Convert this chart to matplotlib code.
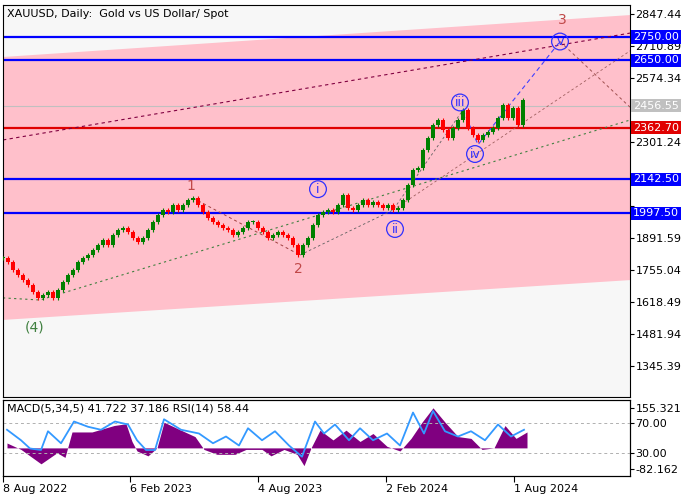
import numpy as np
import matplotlib.pyplot as plt
from matplotlib.patches import Polygon

plt.rcParams['font.family'] = ['DejaVu Sans']
plt.rcParams['font.size'] = 8

# weekly closes (x in pixels from left edge)
closes = [1806, 1789, 1755, 1734, 1712, 1691, 1661, 1636, 1648, 1661, 1636, 1670,
          1704, 1734, 1755, 1789, 1806, 1819, 1840, 1862, 1883, 1862, 1904, 1926,
          1934, 1917, 1892, 1874, 1892, 1926, 1960, 1990, 2011, 2003, 2032, 2011,
          2032, 2054, 2062, 2032, 2003, 1977, 1960, 1947, 1934, 1926, 1904, 1917,
          1934, 1960, 1960, 1934, 1917, 1892, 1904, 1917, 1904, 1892, 1862, 1819,
          1862, 1892, 1947, 1990, 2003, 2011, 2003, 2032, 2075, 2020, 2011, 2032,
          2054, 2032, 2045, 2032, 2020, 2032, 2011, 2020, 2054, 2118, 2182, 2190,
          2267, 2318, 2374, 2395, 2352, 2318, 2361, 2395, 2438, 2361, 2331, 2310,
          2331, 2344, 2361, 2404, 2459, 2404, 2446, 2374, 2480]

# indicator samples: x pixel, MACD histogram, RSI
hist_x = [4, 18, 38, 54, 62, 69, 89, 111, 123, 129, 134, 145, 154, 161, 178, 192,
          201, 214, 232, 243, 259, 268, 281, 294, 301, 308, 317, 330, 343, 357,
          370, 384, 397, 408, 419, 430, 442, 455, 468, 479, 491, 502, 513, 524]
hist = [19, -6, -62, -19, -37, 62, 62, 87, 94, 25, -12, -31, 0, 100, 69, 44,
        -6, -25, -25, -6, -6, -31, -6, -25, -69, 0, 69, 31, 69, 25,
        56, 6, -12, 37, 100, 156, 100, 44, 37, -6, 0, 87, 37, 62]
rsi_x = [4, 18, 27, 38, 45, 58, 71, 85, 98, 112, 125, 134, 143, 152, 161, 178,
         196, 210, 223, 236, 245, 259, 272, 286, 299, 312, 321, 332, 346, 357,
         370, 384, 397, 410, 421, 430, 442, 455, 468, 482, 495, 508, 521]
rsi = [61, 47, 36, 34, 59, 43, 72, 65, 61, 72, 68, 47, 34, 34, 75, 61,
       56, 43, 52, 40, 63, 47, 59, 40, 25, 72, 56, 68, 47, 63,
       47, 56, 40, 84, 56, 86, 59, 52, 59, 47, 68, 52, 61]

price_ticks = [2847.44, 2710.89, 2574.34, 2437.79, 2301.24, 2164.69, 2028.14,
               1891.59, 1755.04, 1618.49, 1481.94, 1345.39]
hidden_ticks = [2437.79, 2164.69, 2028.14]  # covered by level boxes
levels_blue = [2750.00, 2650.00, 2142.50, 1997.50]
level_red = 2362.70
last_price = 2456.55
date_pos = [3, 130, 258, 386, 514]
date_labels = ['8 Aug 2022', '6 Feb 2023', '4 Aug 2023', '2 Feb 2024', '1 Aug 2024']

fig = plt.figure(figsize=(7, 5), dpi=100, facecolor='white')
ax = fig.add_axes([3/700, 103/500, 627/700, 392/500])
ax.set_facecolor('#f7f7f7')
ax.set_xlim(0, 627)
ax.set_ylim(1213.1, 2885.9)

# pink channel
ax.add_patch(Polygon([(0, 1542), (627, 1712), (627, 2843), (0, 2664)],
                     closed=True, color='#ffc0cb', lw=0, zorder=0))

# horizontal levels
for lv in levels_blue:
    ax.axhline(lv, color='#0000ff', lw=1.6, zorder=2)
ax.axhline(level_red, color='#e00000', lw=1.6, zorder=2)
ax.axhline(last_price, color='#c0c0c0', lw=0.8, zorder=1)

# trend / wave lines
ax.plot([0, 627], [2310, 2766], ls=(0, (3, 3)), color='#800040', lw=0.8)
ax.plot([0, 37, 627], [1636, 1627, 2395], ls=(0, (2, 3)), color='#408040', lw=0.8)
ax.plot([190, 297], [2062, 1819], ls=(0, (3, 3)), color='#a04040', lw=0.7)
ax.plot([297, 390, 460], [1819, 2011, 2438], ls=(0, (3, 3)), color='#606060', lw=0.6)
ax.plot([460, 475, 557], [2438, 2290, 2730], ls=(0, (4, 3)), color='#4040ff', lw=0.8)
ax.plot([557, 627], [2730, 2450], ls=(0, (3, 3)), color='#a05050', lw=0.7)
ax.plot([390, 627], [2011, 2690], ls=(0, (3, 3)), color='#a06060', lw=0.6)

# candles
xs = np.arange(len(closes)) * 5
opens = [closes[0]] + closes[:-1]
for x, o, c in zip(xs, opens, closes):
    col = '#008000' if c >= o else '#ff0000'
    lo, hi = min(o, c), max(o, c)
    ax.vlines(x, lo - 8, hi + 8, color=col, lw=0.8, zorder=3)
    ax.bar(x, max(hi - lo, 3), bottom=lo, width=3.5, color=col, zorder=3)

# wave labels
ax.text(188, 2085, '1', color='#c04848', fontsize=10, ha='center', va='bottom')
ax.text(295, 1790, '2', color='#c04848', fontsize=10, ha='center', va='top')
ax.text(559, 2790, '3', color='#c04848', fontsize=10, ha='center', va='bottom')
ax.text(32, 1540, '(4)', color='#408040', fontsize=10, ha='center', va='top')
circ = dict(boxstyle='circle,pad=0.15', fc='none', ec='#3030ff', lw=0.9)
for tx, ty, s in [(315, 2100, 'i'), (392, 1930, 'ii'), (457, 2470, 'iii'),
                  (472, 2250, 'iv'), (557, 2730, 'v')]:
    ax.text(tx, ty, s, color='#3030ff', fontsize=9, ha='center', va='center', bbox=circ)

ax.text(4, 2870, 'XAUUSD, Daily:  Gold vs US Dollar/ Spot', fontsize=8, va='top')

ax.yaxis.tick_right()
ax.set_yticks(price_ticks)
ax.set_yticklabels(['' if v in hidden_ticks else f'{v:.2f}' for v in price_ticks])
ax.tick_params(axis='y', length=3, pad=1, labelsize=8)
ax.set_xticks([])
for lv, bg, fg in [(2750.00, '#0000ff', 'white'), (2650.00, '#0000ff', 'white'),
                   (2142.50, '#0000ff', 'white'), (1997.50, '#0000ff', 'white'),
                   (level_red, '#e00000', 'white'), (last_price, '#c0c0c0', 'white')]:
    ax.text(1.005, lv, f'{lv:.2f}', transform=ax.get_yaxis_transform(), color=fg,
            fontsize=8, va='center', ha='left',
            bbox=dict(boxstyle='square,pad=0.15', fc=bg, ec='none'))

# indicator panel
ax2 = fig.add_axes([3/700, 24/500, 627/700, 76/500])
ax2.set_xlim(0, 627)
ax2.set_ylim(-0.7, 100.7)
ax2.axhline(70, color='#b0b0b0', ls=(0, (3, 3)), lw=0.7)
ax2.axhline(30, color='#b0b0b0', ls=(0, (3, 3)), lw=0.7)
axm = ax2.twinx()
axm.set_ylim(-109.4, 186.4)
axm.fill_between(hist_x, 0, hist, color='#800080', lw=0)
ax2.set_zorder(axm.get_zorder() + 1)
ax2.patch.set_visible(False)
ax2.plot(rsi_x, rsi, color='#3399ff', lw=1.3)
ax2.text(4, 96, 'MACD(5,34,5) 41.722 37.186 RSI(14) 58.44', fontsize=8, va='top')
ax2.yaxis.tick_right()
ax2.set_yticks([70, 30])
ax2.set_yticklabels(['70.00', '30.00'])
axm.set_yticks([155.321, -82.162])
axm.set_yticklabels(['155.321', '-82.162'])
for a in (ax2, axm):
    a.tick_params(axis='y', length=3, pad=1, labelsize=8)
ax2.set_xticks([p - 3 for p in date_pos])
ax2.set_xticklabels(date_labels, ha='left')
ax2.tick_params(axis='x', length=4, pad=2, labelsize=8)

fig.savefig('out.png', dpi=100)
